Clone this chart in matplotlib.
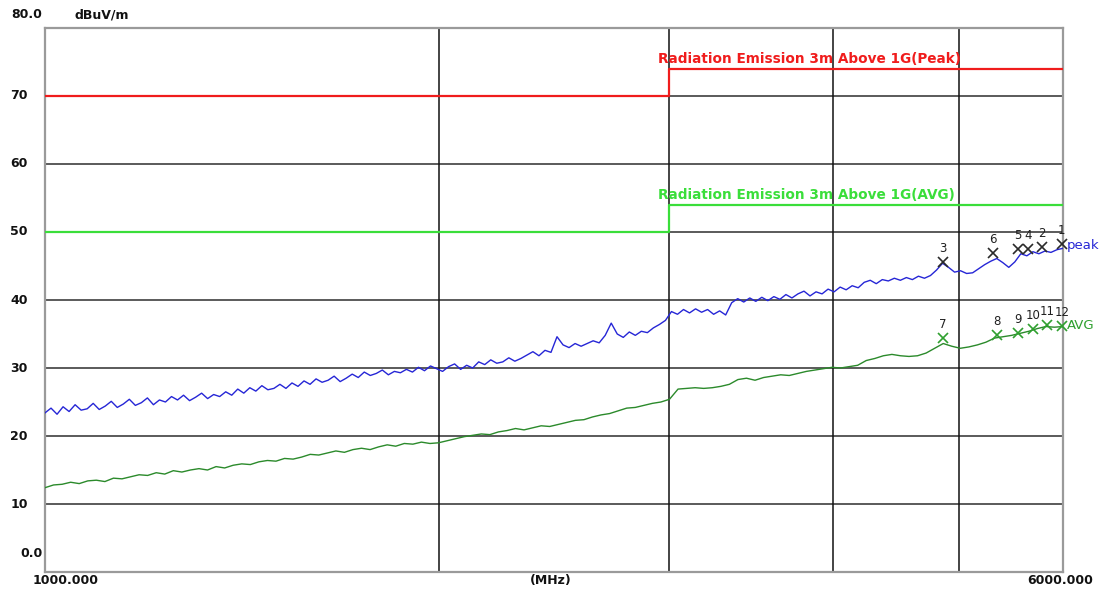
import numpy as np
import matplotlib
matplotlib.use("Agg")
import matplotlib.pyplot as plt

# limit lines in dBuV/m, the limit steps up at 3 GHz
limit_freq = [1000, 3000, 6000]
peak_limit = [70, 74, 74]
avg_limit = [50, 54, 54]

# peak detector sweep, 1-6 GHz (log spaced sweep points)
peak_trace = [
    23.4, 24.1, 23.2, 24.3, 23.6, 24.6, 23.8, 24.0, 24.8, 23.9,
    24.4, 25.1, 24.2, 24.7, 25.4, 24.5, 24.9, 25.6, 24.6, 25.3,
    25.0, 25.8, 25.3, 26.0, 25.2, 25.7, 26.3, 25.5, 26.1, 25.8,
    26.5, 26.0, 26.9, 26.3, 27.1, 26.6, 27.4, 26.8, 27.0, 27.6,
    27.0, 27.8, 27.3, 28.1, 27.6, 28.4, 27.9, 28.2, 28.8, 28.0,
    28.5, 29.1, 28.6, 29.4, 28.9, 29.2, 29.7, 29.0, 29.5, 29.3,
    29.8, 29.4, 30.1, 29.6, 30.3, 29.9, 29.5, 30.2, 30.6, 29.8,
    30.4, 30.0, 30.9, 30.5, 31.2, 30.7, 30.9, 31.5, 31.0, 31.4,
    31.9, 32.4, 31.8, 32.6, 32.3, 34.6, 33.4, 33.0, 33.6, 33.2,
    33.6, 34.0, 33.7, 34.8, 36.6, 35.0, 34.5, 35.3, 34.8, 35.4,
    35.2, 35.9, 36.4, 37.0, 38.3, 37.9, 38.6, 38.1, 38.7, 38.2,
    38.6, 37.9, 38.4, 37.8, 39.6, 40.2, 39.7, 40.3, 39.8, 40.4,
    39.9, 40.5, 40.1, 40.8, 40.3, 40.9, 41.3, 40.6, 41.2, 40.9,
    41.6, 41.2, 41.9, 41.5, 42.1, 41.8, 42.6, 42.9, 42.4, 43.0,
    42.8, 43.2, 42.9, 43.3, 43.0, 43.5, 43.2, 43.6, 44.4, 45.4,
    44.8, 44.1, 44.3, 43.9, 44.0, 44.6, 45.2, 45.7, 46.1, 45.5,
    44.8, 45.6, 46.8, 46.5, 47.1, 46.8, 47.2, 47.0, 47.4, 47.6,
]

# average detector sweep
avg_trace = [
    12.4, 12.8, 12.9, 13.2, 13.0, 13.4, 13.5, 13.3, 13.8, 13.7,
    14.0, 14.3, 14.2, 14.6, 14.4, 14.9, 14.7, 15.0, 15.2, 15.0,
    15.5, 15.3, 15.7, 15.9, 15.8, 16.2, 16.4, 16.3, 16.7, 16.6,
    16.9, 17.3, 17.2, 17.5, 17.8, 17.6, 18.0, 18.2, 18.0, 18.4,
    18.7, 18.5, 18.9, 18.8, 19.1, 18.9, 19.0, 19.3, 19.6, 19.9,
    20.1, 20.3, 20.2, 20.6, 20.8, 21.1, 20.9, 21.2, 21.5, 21.4,
    21.7, 22.0, 22.3, 22.4, 22.8, 23.1, 23.3, 23.7, 24.1, 24.2,
    24.5, 24.8, 25.0, 25.4, 26.9, 27.0, 27.1, 27.0, 27.1, 27.3,
    27.6, 28.3, 28.5, 28.2, 28.6, 28.8, 29.0, 28.9, 29.2, 29.5,
    29.7, 29.9, 30.1, 30.0, 30.2, 30.4, 31.1, 31.4, 31.8, 32.0,
    31.8, 31.7, 31.8, 32.2, 32.9, 33.6, 33.2, 32.9, 33.1, 33.4,
    33.8, 34.4, 34.6, 34.8, 35.1, 35.4, 35.8, 36.1, 36.0, 36.1,
]

# marker table
peak_mark_no = ["1", "2", "3", "4", "5", "6"]
peak_mark_freq = [5988, 5781, 4857, 5640, 5540, 5303]
peak_mark_level = [48.2, 47.8, 45.6, 47.5, 47.5, 46.9]
avg_mark_no = ["7", "8", "9", "10", "11", "12"]
avg_mark_freq = [4857, 5341, 5540, 5690, 5832, 5988]
avg_mark_level = [34.4, 34.9, 35.1, 35.7, 36.3, 36.2]

y_ticks = [10, 20, 30, 40, 50, 60, 70]

RED = "#f01c1c"
LIM_GREEN = "#3ade3a"
BLUE = "#2626d6"
AVG_GREEN = "#2b8a2b"

fig = plt.figure(figsize=(11, 5.93), dpi=100)
ax = fig.add_axes([45 / 1100, 21 / 593, 1018 / 1100, 544 / 593])

ax.set_xscale("log")
ax.set_xlim(1000, 6000)
ax.set_ylim(0, 80)

# grid
for v in y_ticks:
    ax.axhline(v, color="#5a5a5a", lw=1.4, zorder=1)
for f in [2000, 3000, 4000, 5000]:
    ax.axvline(f, color="#111111", lw=1.1, zorder=1)

for s in ax.spines.values():
    s.set_color("#9a9a9a")
    s.set_linewidth(1.6)
ax.set_xticks([])
ax.set_yticks([])
ax.minorticks_off()

# limits
ax.plot(limit_freq, peak_limit, drawstyle="steps-post", color=RED, lw=1.6, zorder=3)
ax.plot(limit_freq, avg_limit, drawstyle="steps-post", color=LIM_GREEN, lw=1.6, zorder=3)
lab_font = dict(fontsize=9.8, fontweight="bold", family="DejaVu Sans")
ax.annotate("Radiation Emission 3m Above 1G(Peak)", (2941, 74), xytext=(0, 2),
            textcoords="offset points", ha="left", va="bottom", color=RED, **lab_font)
ax.annotate("Radiation Emission 3m Above 1G(AVG)", (2941, 54), xytext=(0, 2),
            textcoords="offset points", ha="left", va="bottom", color=LIM_GREEN, **lab_font)

# sweeps
peak_freq = np.geomspace(1000, 6000, len(peak_trace))
avg_freq = np.geomspace(1000, 6000, len(avg_trace))
ax.plot(peak_freq, peak_trace, color=BLUE, lw=1.0, zorder=4)
ax.plot(avg_freq, avg_trace, color=AVG_GREEN, lw=1.0, zorder=4)

# markers
ax.plot(peak_mark_freq, peak_mark_level, "x", color="#2a2a2a", ms=7, mew=1.2,
        zorder=5, clip_on=False)
ax.plot(avg_mark_freq, avg_mark_level, "x", color="#2fa02f", ms=7, mew=1.2,
        zorder=5, clip_on=False)
for no, f, v in zip(peak_mark_no + avg_mark_no, peak_mark_freq + avg_mark_freq,
                    peak_mark_level + avg_mark_level):
    ax.annotate(no, (f, v), xytext=(0, 5), textcoords="offset points",
                ha="center", va="bottom", fontsize=8.5, color="#202020")
ax.annotate("peak", (6000, peak_mark_level[0]), xytext=(3, -1),
            textcoords="offset points", ha="left", va="center",
            fontsize=9.5, color=BLUE, annotation_clip=False)
ax.annotate("AVG", (6000, avg_mark_level[-1]), xytext=(3, 0),
            textcoords="offset points", ha="left", va="center",
            fontsize=9.5, color="#2fa02f", annotation_clip=False)

# axis labels drawn as text, instrument style
tick_font = dict(fontsize=9, fontweight="bold", color="#111111", family="DejaVu Sans")
ytr = ax.get_yaxis_transform()
for v in y_ticks:
    ax.annotate(str(v), (0, v), xycoords=ytr, xytext=(-25, 0),
                textcoords="offset points", ha="left", va="center", **tick_font)
ax.annotate("0.0", (0, 0), xycoords=ytr, xytext=(-2, 13),
            textcoords="offset points", ha="right", va="center", **tick_font)
ax.annotate("80.0", (0, 80), xycoords=ytr, xytext=(-2, 9.5),
            textcoords="offset points", ha="right", va="center", **tick_font)
ax.annotate("dBuV/m", (0, 80), xycoords=ytr, xytext=(21, 9.5),
            textcoords="offset points", ha="left", va="center", **tick_font)

xtr = ax.get_xaxis_transform()
ax.annotate("1000.000", (1000, 0), xycoords=xtr, xytext=(-9, -6),
            textcoords="offset points", ha="left", va="center", **tick_font)
ax.annotate("(MHz)", (0.497, 0), xycoords="axes fraction", xytext=(0, -6),
            textcoords="offset points", ha="center", va="center", **tick_font)
ax.annotate("6000.000", (6000, 0), xycoords=xtr, xytext=(22, -6),
            textcoords="offset points", ha="right", va="center", **tick_font)

fig.savefig("out.png", dpi=100)
